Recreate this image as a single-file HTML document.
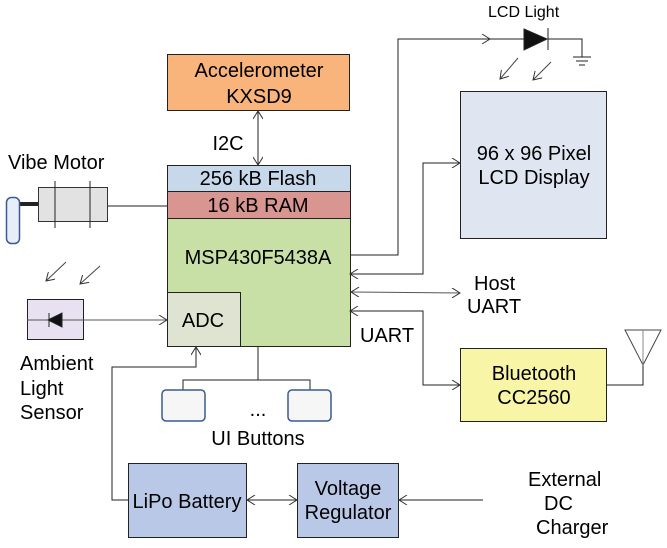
<!DOCTYPE html>
<html><head><style>body{margin:0;background:#fff}svg{display:block}text{font-family:"Liberation Sans",sans-serif;fill:#000}</style></head><body>
<svg width="667" height="548" xmlns="http://www.w3.org/2000/svg">
<defs>
<marker id="a" markerWidth="10" markerHeight="10" refX="9" refY="5" orient="auto-start-reverse" markerUnits="userSpaceOnUse"><path d="M1,0 L9,5 L1,10" fill="none" stroke="#333" stroke-width="1"/></marker>
</defs>
<g stroke="#222" stroke-width="1" fill="none">
<rect x="167.5" y="54.5" width="182" height="56" fill="#f9b47c"/>
<line x1="258" y1="111" x2="258" y2="165" marker-start="url(#a)" marker-end="url(#a)"/>
<rect x="167.5" y="165.5" width="183" height="181" fill="#c8e0a6"/>
<rect x="167.5" y="165.5" width="183" height="26" fill="#c6d8ea"/>
<rect x="167.5" y="191.5" width="183" height="27" fill="#d9958f"/>
<rect x="167.5" y="292.5" width="73" height="54" fill="#dfe3d1"/>
<line x1="107" y1="206" x2="167" y2="206"/>
<rect x="38.5" y="187.5" width="69" height="34" fill="#e2e2e2" stroke="#333"/>
<line x1="55" y1="181" x2="55" y2="228"/><line x1="90" y1="181" x2="90" y2="228"/>
<line x1="20" y1="204" x2="38" y2="204" stroke-width="4"/>
<rect x="6.5" y="197.5" width="13" height="46" rx="5" fill="#e8eef8" stroke="#3a5a90" stroke-width="1.5"/>
<rect x="27.5" y="299.5" width="56" height="40" fill="#e7e1f1"/>
<line x1="27" y1="320" x2="167" y2="320" stroke="#555" marker-end="url(#a)"/>
<path d="M48,320 L62,313 L62,327 Z" fill="#111"/><line x1="49" y1="313" x2="49" y2="327"/>
<line x1="66" y1="262" x2="46" y2="281" stroke="#444" marker-end="url(#a)"/>
<line x1="100" y1="266" x2="80" y2="284" stroke="#444" marker-end="url(#a)"/>
<polyline points="350,255 398,255 398,39 490,39" marker-end="url(#a)"/>
<line x1="490" y1="39" x2="524" y2="39"/>
<path d="M524,29 L547,39 L524,50 Z" fill="#111"/><line x1="548" y1="28" x2="548" y2="50"/>
<polyline points="548,39 582,39 582,57"/>
<line x1="573" y1="57" x2="591" y2="57"/><line x1="576" y1="61" x2="588" y2="61"/><line x1="579" y1="65" x2="585" y2="65"/>
<line x1="518" y1="58" x2="500" y2="79" stroke="#444" marker-end="url(#a)"/>
<line x1="551" y1="62" x2="533" y2="80" stroke="#444" marker-end="url(#a)"/>
<rect x="460.5" y="91.5" width="146" height="147" fill="#dfe6f1"/>
<polyline points="350,274 423,274 423,163 460,163" marker-start="url(#a)" marker-end="url(#a)"/>
<line x1="351" y1="292" x2="460" y2="293" stroke="#555" marker-start="url(#a)" marker-end="url(#a)"/>
<polyline points="350,311 423,311 423,385 460,385" marker-start="url(#a)" marker-end="url(#a)"/>
<rect x="460.5" y="348.5" width="146" height="73" fill="#f9f5a7"/>
<polyline points="607,385 643,385 643,365"/>
<path d="M625,330 L643,365 L661,330 Z" fill="none" stroke="#444"/>
<line x1="643" y1="330" x2="643" y2="365" stroke="#888"/>
<line x1="258" y1="347" x2="258" y2="380"/>
<polyline points="183,390 183,380 310,380 310,390"/>
<rect x="162" y="390" width="43" height="31" rx="4" fill="#f6f6f6" stroke="#3a5a90" stroke-width="1.5"/>
<rect x="288" y="390" width="43" height="31" rx="4" fill="#f6f6f6" stroke="#3a5a90" stroke-width="1.5"/>
<rect x="128.5" y="463.5" width="118" height="74" fill="#b9c8e6"/>
<rect x="297.5" y="463.5" width="101" height="74" fill="#b9c8e6"/>
<polyline points="128,500 112,500 112,367 196,367 196,347" marker-end="url(#a)"/>
<line x1="247" y1="500" x2="297" y2="500" marker-start="url(#a)" marker-end="url(#a)"/>
<line x1="483" y1="500" x2="399" y2="500" marker-end="url(#a)"/>
</g>
<g font-size="20" text-anchor="middle">
<text x="259" y="77">Accelerometer</text><text x="259" y="103">KXSD9</text>
<text x="228" y="150">I2C</text>
<text x="258" y="185">256 kB Flash</text><text x="258" y="212">16 kB RAM</text>
<text x="258" y="264">MSP430F5438A</text>
<text x="203" y="327">ADC</text>
<text x="534" y="160">96 x 96 Pixel</text><text x="534" y="184">LCD Display</text>
<text x="534" y="380">Bluetooth</text><text x="534" y="404">CC2560</text>
<text x="187" y="508">LiPo Battery</text>
<text x="348" y="495">Voltage</text><text x="348" y="519">Regulator</text>
<text x="258" y="445">UI Buttons</text>
<text x="258" y="416">...</text>
</g>
<g font-size="20">
<text x="8" y="169">Vibe Motor</text>
<text x="20" y="370">Ambient</text><text x="20" y="395">Light</text><text x="20" y="419">Sensor</text>
<text x="474" y="290">Host</text><text x="467" y="313">UART</text>
<text x="360" y="342">UART</text>
<text x="528" y="486">External</text><text x="544" y="510">DC</text><text x="536" y="534">Charger</text>
<text x="488" y="17" font-size="16">LCD Light</text>
</g>
</svg>
</body></html>
